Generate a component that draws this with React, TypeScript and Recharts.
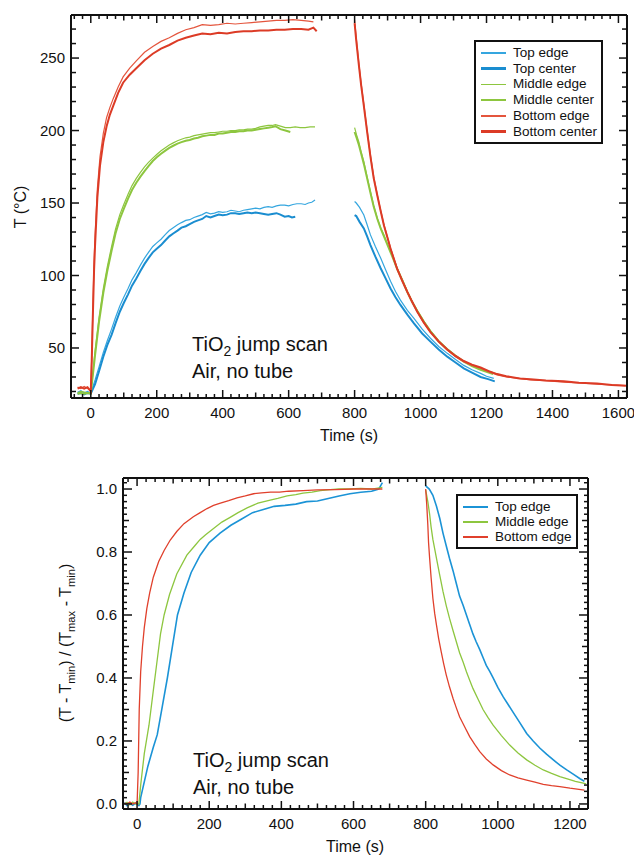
import { LineChart, Line, XAxis, YAxis } from "recharts";

type Pt = [number, number | null];

// ---- top panel: temperature (°C) vs time (s) ----
const topEdgeHeat: Pt[] = [
  [-40, 19.5], [-30, 20.5], [-20, 19], [-10, 20], [0, 19], [13, 28], [25, 37], [38, 47], [50, 55], [63, 63],
  [75, 71], [88, 79], [100, 85], [113, 91], [125, 97], [138, 102], [150, 107], [163, 112], [175, 116], [188, 120],
  [200, 122.5], [213, 125], [225, 128], [238, 131], [250, 133], [263, 135], [275, 136.5], [288, 138], [300, 138.5],
  [313, 140], [325, 141], [338, 142], [350, 143.5], [363, 142.5], [375, 143], [388, 144], [400, 143.5], [413, 144],
  [425, 145], [438, 144.5], [450, 144], [463, 145], [475, 145.5], [488, 146], [500, 146.5], [513, 146], [525, 147],
  [538, 147.5], [550, 147], [563, 148], [575, 148.5], [588, 148.6], [600, 148], [613, 149], [625, 149.5],
  [638, 149.5], [650, 149], [660, 150], [670, 150.5], [680, 152],
];
const topEdgeCool: Pt[] = [
  [800, 151], [805, 150], [815, 147], [828, 141.7], [838, 135], [848, 128], [863, 120], [879, 112], [894, 104],
  [909, 96], [924, 89], [939, 83], [960, 76], [980, 70.5], [1005, 63], [1030, 56.7], [1055, 51], [1081, 46.3],
  [1106, 42], [1131, 38], [1156, 35], [1182, 32.5], [1200, 30.5], [1222, 29],
];
const topCenterHeat: Pt[] = [
  [-40, 18.5], [-30, 19], [-20, 18], [-10, 19], [0, 18.5], [13, 25], [25, 34], [38, 44], [50, 52], [63, 59],
  [75, 67], [88, 75], [100, 81], [113, 87], [125, 93], [138, 98], [150, 103], [163, 108], [175, 112], [188, 116],
  [200, 118.5], [213, 121], [225, 124], [238, 127], [250, 129], [263, 131], [275, 133], [288, 134], [300, 135.5],
  [313, 137], [325, 138], [338, 139], [350, 141], [363, 140], [375, 141], [388, 142], [400, 141.5], [413, 142],
  [425, 143], [438, 143], [450, 142.5], [463, 143], [475, 143.5], [488, 143], [500, 143.5], [513, 143],
  [525, 142.5], [538, 142], [550, 142.5], [563, 143], [575, 142], [588, 140.6], [600, 141], [610, 140], [620, 140.5],
];
const topCenterCool: Pt[] = [
  [800, 141.7], [805, 141], [815, 137], [828, 132.5], [838, 127], [848, 121], [863, 113], [879, 105], [894, 98],
  [909, 91], [924, 85], [939, 79.7], [960, 73], [980, 67], [1005, 60], [1030, 54.4], [1055, 49], [1081, 44],
  [1106, 40], [1131, 36], [1156, 33], [1182, 30], [1205, 28.5], [1225, 27],
];
const midEdgeHeat: Pt[] = [
  [-40, 19], [-30, 20], [-20, 19.5], [-10, 19], [0, 19], [13, 48], [25, 71], [38, 91], [50, 106], [63, 120],
  [75, 132], [88, 142], [100, 149], [113, 156], [125, 162], [138, 167], [150, 171], [163, 175], [175, 178],
  [188, 181], [200, 183.5], [213, 186], [225, 188], [238, 190], [250, 191.5], [263, 193], [275, 194], [288, 195],
  [300, 195.5], [313, 196.5], [325, 197], [338, 197.5], [350, 198], [363, 198.5], [375, 198.5], [388, 199],
  [400, 199.5], [413, 199.5], [425, 200], [438, 200], [450, 200.5], [463, 200.5], [475, 201], [488, 201],
  [500, 201.5], [513, 202.5], [525, 203], [538, 203.5], [550, 203.5], [560, 204], [575, 203], [590, 202],
  [605, 202], [620, 202.5], [635, 202], [650, 202], [665, 202.5], [680, 202.5],
];
const midEdgeCool: Pt[] = [
  [800, 202], [806, 197], [813, 192], [820, 185], [828, 178.5], [838, 168], [848, 158], [858, 148], [869, 139.4],
  [879, 133], [889, 128], [899, 122], [909, 116.6], [919, 111], [929, 105], [945, 97], [960, 89], [975, 82],
  [990, 76], [1010, 68.5], [1030, 62], [1055, 55], [1081, 49.5], [1106, 45], [1131, 41], [1156, 38], [1182, 36],
  [1207, 34], [1232, 32], [1245, 31],
];
const midCenterHeat: Pt[] = [
  [-40, 18.5], [-30, 19], [-20, 18.5], [-10, 19], [0, 18.5], [13, 45], [25, 68], [38, 88], [50, 103], [63, 117],
  [75, 129], [88, 139], [100, 146], [113, 153], [125, 159], [138, 164], [150, 168], [163, 172], [175, 175.5],
  [188, 179], [200, 181.5], [213, 184], [225, 186], [238, 188], [250, 189.5], [263, 191], [275, 192], [288, 193],
  [300, 193.5], [313, 194.5], [325, 195], [338, 196], [350, 196.5], [363, 197], [375, 197], [388, 198], [400, 198],
  [413, 198.5], [425, 199], [438, 199], [450, 199.5], [463, 199.5], [475, 200], [488, 200], [500, 200.5],
  [513, 201], [525, 201.5], [538, 202], [550, 202.5], [560, 203], [575, 201], [590, 200], [605, 199],
];
const midCenterCool: Pt[] = [
  [800, 199], [806, 195], [813, 190], [820, 184], [828, 177], [838, 167], [848, 157], [858, 147.5], [869, 139],
  [879, 132.5], [889, 127], [899, 121.5], [909, 116], [919, 110.5], [929, 104.5], [945, 96.5], [960, 88.5],
  [975, 81.5], [990, 75.5], [1010, 68], [1030, 61.5], [1055, 54.5], [1081, 49], [1106, 44.5], [1131, 40.5],
  [1156, 37.5], [1182, 35], [1200, 33.5], [1220, 32],
];
const botEdgeHeat: Pt[] = [
  [-40, 23], [-30, 22], [-20, 23.5], [-10, 22], [0, 21], [3, 45], [6, 75], [10, 110], [13, 128], [20, 160],
  [28, 182], [38, 198], [48, 209], [58, 216], [68, 222], [83, 230], [98, 237], [118, 243], [138, 248], [163, 254],
  [188, 258], [213, 261.5], [238, 264], [263, 267], [288, 269.5], [313, 271], [338, 273], [363, 272.5], [388, 273],
  [413, 274], [438, 273.5], [463, 274], [488, 274.5], [513, 275], [538, 275.5], [563, 276], [588, 276],
  [613, 276.5], [638, 276], [660, 275.5], [675, 275],
];
const botEdgeCool: Pt[] = [
  [800, 276], [805, 264], [813, 246], [820, 232], [828, 218], [838, 200], [848, 183], [858, 168], [869, 155.5],
  [879, 145], [889, 135], [899, 127], [909, 119], [919, 112], [929, 105], [945, 96.5], [960, 89], [975, 82],
  [990, 75], [1010, 67.5], [1030, 61], [1055, 54.5], [1081, 48.6], [1106, 44], [1131, 40.6], [1156, 38],
  [1182, 36], [1207, 33.5], [1232, 31.4], [1260, 30], [1300, 29], [1333, 28], [1380, 27.5], [1434, 26.5],
  [1480, 26], [1535, 25], [1580, 24.5], [1620, 24],
];
const botCenterHeat: Pt[] = [
  [-40, 22], [-30, 23], [-20, 22], [-10, 23], [0, 20], [3, 42], [6, 70], [10, 104], [13, 121], [20, 154],
  [28, 176], [38, 192], [48, 203], [58, 211], [68, 217], [83, 226], [98, 233], [118, 238.5], [138, 243],
  [163, 248.5], [188, 253], [213, 256.5], [238, 259], [263, 262], [288, 264], [313, 265.5], [338, 267],
  [363, 266.5], [388, 267.5], [413, 267], [438, 268], [463, 268.5], [488, 268.5], [513, 269], [538, 269],
  [563, 269.5], [588, 269.5], [613, 270], [638, 270], [660, 269.5], [675, 271], [685, 268.5],
];
const botCenterCool: Pt[] = [
  [800, 274], [805, 262], [813, 245], [820, 231], [828, 217], [838, 199], [848, 182], [858, 167], [869, 155],
  [879, 144.5], [889, 134.5], [899, 126.5], [909, 118.5], [919, 111.5], [929, 104.5], [945, 96], [960, 88.5],
  [975, 81.5], [990, 75], [1010, 67.5], [1030, 61], [1055, 54.5], [1081, 49], [1106, 44.5], [1131, 41],
  [1156, 38.5], [1182, 36.5], [1207, 34], [1232, 32], [1260, 30.5], [1300, 29], [1333, 28.5], [1380, 27.5],
  [1434, 27], [1480, 26], [1535, 25.5], [1580, 24.5], [1625, 24],
];

// ---- bottom panel: normalised temperature vs time (s) ----
const normTopHeat: Pt[] = [
  [-35, 0.005], [-28, -0.005], [-20, 0.003], [-12, -0.004], [-5, 0.002], [0, 0], [5, -0.005], [8, 0], [10, 0.02],
  [20, 0.07], [30, 0.12], [45, 0.18], [56, 0.22], [70, 0.31], [84, 0.4], [98, 0.5], [112, 0.6], [130, 0.67],
  [150, 0.735], [175, 0.79], [200, 0.83], [230, 0.86], [260, 0.885], [290, 0.905], [320, 0.925], [350, 0.935],
  [380, 0.945], [410, 0.948], [440, 0.952], [470, 0.96], [500, 0.962], [530, 0.97], [560, 0.978], [590, 0.985],
  [620, 0.99], [650, 0.993], [670, 1.0], [680, 1.02],
];
const normTopCool: Pt[] = [
  [800, 1.01], [810, 1.0], [820, 0.98], [830, 0.945], [839, 0.907], [848, 0.86], [857, 0.82], [866, 0.78],
  [876, 0.74], [885, 0.7], [894, 0.66], [904, 0.63], [913, 0.6], [922, 0.57], [931, 0.54], [940, 0.515],
  [950, 0.49], [959, 0.465], [968, 0.44], [978, 0.42], [987, 0.4], [1000, 0.37], [1015, 0.34], [1029, 0.315],
  [1043, 0.29], [1060, 0.26], [1080, 0.224], [1098, 0.2], [1117, 0.177], [1135, 0.158], [1154, 0.14],
  [1172, 0.123], [1191, 0.108], [1210, 0.094], [1228, 0.08], [1240, 0.072],
];
const normMidHeat: Pt[] = [
  [-35, 0], [-28, 0.005], [-20, -0.003], [-12, 0.006], [-5, 0], [0, 0.003], [5, 0], [10, 0.06], [20, 0.16],
  [33, 0.25], [45, 0.36], [55, 0.45], [65, 0.54], [75, 0.6], [90, 0.665], [110, 0.73], [138, 0.79], [160, 0.82],
  [175, 0.84], [190, 0.855], [212, 0.875], [235, 0.895], [258, 0.91], [280, 0.925], [305, 0.94], [335, 0.955],
  [369, 0.965], [390, 0.97], [416, 0.978], [440, 0.982], [460, 0.987], [485, 0.99], [508, 0.995], [535, 0.998],
  [560, 1.0], [590, 1.0], [620, 1.002], [650, 1.0], [680, 1.005],
];
const normMidCool: Pt[] = [
  [800, 0.997], [806, 0.96], [811, 0.92], [815, 0.88], [820, 0.84], [830, 0.78], [839, 0.727], [848, 0.675],
  [857, 0.63], [866, 0.59], [876, 0.55], [885, 0.515], [894, 0.48], [904, 0.45], [913, 0.42], [922, 0.393],
  [931, 0.367], [945, 0.333], [959, 0.3], [973, 0.274], [987, 0.25], [1010, 0.217], [1033, 0.187], [1056, 0.162],
  [1080, 0.14], [1103, 0.123], [1126, 0.108], [1149, 0.097], [1172, 0.087], [1195, 0.079], [1215, 0.072],
  [1237, 0.066], [1245, 0.064],
];
const normBotHeat: Pt[] = [
  [-35, 0.003], [-28, 0], [-20, 0.006], [-12, 0], [-5, 0.004], [0, 0], [3, 0.1], [6, 0.3], [10, 0.42], [15, 0.5],
  [20, 0.56], [27, 0.62], [35, 0.67], [45, 0.72], [60, 0.77], [75, 0.805], [92, 0.838], [110, 0.865], [130, 0.89],
  [156, 0.912], [175, 0.925], [194, 0.938], [212, 0.948], [231, 0.955], [254, 0.963], [277, 0.972], [300, 0.978],
  [323, 0.985], [345, 0.988], [370, 0.99], [395, 0.99], [420, 0.993], [460, 0.995], [500, 0.997], [550, 0.998],
  [600, 1.0], [640, 1.0], [680, 1.0],
];
const normBotCool: Pt[] = [
  [800, 1.0], [803, 0.95], [806, 0.886], [808, 0.83], [811, 0.78], [815, 0.72], [820, 0.653], [825, 0.605],
  [830, 0.568], [836, 0.525], [843, 0.484], [850, 0.445], [857, 0.41], [866, 0.372], [876, 0.335], [885, 0.305],
  [894, 0.277], [908, 0.245], [922, 0.214], [936, 0.189], [950, 0.166], [968, 0.143], [987, 0.124],
  [1010, 0.106], [1033, 0.092], [1056, 0.083], [1080, 0.076], [1103, 0.069], [1126, 0.062], [1149, 0.058],
  [1172, 0.055], [1200, 0.05], [1220, 0.047], [1240, 0.044],
];

// tick labels
const tempTicks = [50, 100, 150, 200, 250];
const timeTicksTop = [0, 200, 400, 600, 800, 1000, 1200, 1400, 1600];
const normTicks = [0, 0.2, 0.4, 0.6, 0.8, 1.0];
const timeTicksBottom = [0, 200, 400, 600, 800, 1000, 1200];

const FONT = "'Liberation Sans', Arial, Helvetica, sans-serif";
const BLUE_E = "#35a6df";
const BLUE_C = "#1a8dd0";
const GREEN = "#8dc63f";
const RED_E = "#e4553d";
const RED_C = "#dc3b26";

const rows = (heat: Pt[], cool: Pt[]) =>
  [...heat, [740, null] as Pt, ...cool].map(([t, v]) => ({ t, v }));

const steps = (from: number, to: number, step: number) => {
  const out: number[] = [];
  for (let i = 0; from + i * step <= to + 1e-9; i++) out.push(Math.round((from + i * step) * 1000) / 1000);
  return out;
};

const near = (a: number, b: number) => Math.abs(a - b) < 1e-6;

type Side = "left" | "right" | "top" | "bottom";

// inward ticks on all four sides, labels only on left / bottom
function makeTick(side: Side, labels: number[], med: number, lens: number[], fmt: (v: number) => string) {
  return (props: any) => {
    const { x, y, payload } = props;
    const v = payload.value as number;
    const major = labels.some((l) => near(l, v));
    const medium = near(v / med, Math.round(v / med));
    const L = major ? lens[0] : medium ? lens[1] : lens[2];
    let x2 = x;
    let y2 = y;
    if (side === "left") x2 = x + L;
    if (side === "right") x2 = x - L;
    if (side === "top") y2 = y + L;
    if (side === "bottom") y2 = y - L;
    return (
      <g>
        <line x1={x} y1={y} x2={x2} y2={y2} stroke="#111" strokeWidth={1.5} />
        {major && side === "left" && (
          <text x={x - 6} y={y + 5.3} textAnchor="end" fontSize={15} fontFamily={FONT} fill="#111">
            {fmt(v)}
          </text>
        )}
        {major && side === "bottom" && (
          <text x={x} y={y + 20} textAnchor="middle" fontSize={15} fontFamily={FONT} fill="#111">
            {fmt(v)}
          </text>
        )}
      </g>
    );
  };
}

const abs = (left: number, top: number, extra: object = {}) => ({
  position: "absolute" as const,
  left,
  top,
  fontFamily: FONT,
  color: "#111",
  whiteSpace: "nowrap" as const,
  ...extra,
});

function LegendBox({ left, top, items, gap, firstRow }: any) {
  return (
    <div style={abs(left, top, { border: "2px solid #111", background: "#fff", boxSizing: "border-box", ...firstRow.box })}>
      {items.map((it: any, i: number) => (
        <div key={i} style={{ position: "absolute", left: 5, top: firstRow.y + i * gap - 8, height: 16, display: "flex", alignItems: "center" }}>
          <div style={{ width: 25, height: it.w, background: it.color }} />
          <span style={{ marginLeft: 7, fontSize: 13.5, lineHeight: "16px" }}>{it.name}</span>
        </div>
      ))}
    </div>
  );
}

const axisLine = { stroke: "#111", strokeWidth: 2 };

export default function App() {
  const frameTempY = steps(20, 270, 10);
  const frameTopX = steps(-50, 1625, 25);
  const frameNormY = steps(0, 1.02, 0.02);
  const frameBotX = steps(-25, 1225, 25);

  const topSeries = [
    { heat: topEdgeHeat, cool: topEdgeCool, color: BLUE_E, w: 1.2 },
    { heat: topCenterHeat, cool: topCenterCool, color: BLUE_C, w: 2 },
    { heat: midEdgeHeat, cool: midEdgeCool, color: GREEN, w: 1.2 },
    { heat: midCenterHeat, cool: midCenterCool, color: GREEN, w: 2 },
    { heat: botEdgeHeat, cool: botEdgeCool, color: RED_E, w: 1.2 },
    { heat: botCenterHeat, cool: botCenterCool, color: RED_C, w: 2 },
  ];
  const normSeries = [
    { heat: normTopHeat, cool: normTopCool, color: "#1b93d6", w: 1.6 },
    { heat: normMidHeat, cool: normMidCool, color: GREEN, w: 1.3 },
    { heat: normBotHeat, cool: normBotCool, color: "#e0402c", w: 1.3 },
  ];

  return (
    <div style={{ position: "absolute", left: 0, top: 0, width: 634, height: 856, background: "#fff" }}>
      <div style={{ position: "absolute", left: 0, top: 0 }}>
        <LineChart width={634} height={460} margin={{ top: 14, right: 6, bottom: 61, left: 70 }}>
          <XAxis dataKey="t" type="number" domain={[-60, 1626]} allowDataOverflow ticks={frameTopX} interval={0}
            height={1} tickSize={0} tickMargin={0} axisLine={axisLine}
            tick={makeTick("bottom", timeTicksTop, 100, [8, 5.5, 4], (v) => String(v))} />
          <XAxis xAxisId="top" orientation="top" dataKey="t" type="number" domain={[-60, 1626]} allowDataOverflow
            ticks={frameTopX} interval={0} height={1} tickSize={0} tickMargin={0} axisLine={axisLine}
            tick={makeTick("top", timeTicksTop, 100, [8, 5.5, 4], (v) => String(v))} />
          <YAxis type="number" domain={[15.5, 279.7]} allowDataOverflow ticks={frameTempY} interval={0}
            width={1} tickSize={0} tickMargin={0} axisLine={axisLine}
            tick={makeTick("left", tempTicks, 50, [8, 8, 5], (v) => String(v))} />
          <YAxis yAxisId="right" orientation="right" type="number" domain={[15.5, 279.7]} allowDataOverflow
            ticks={frameTempY} interval={0} width={1} tickSize={0} tickMargin={0} axisLine={axisLine}
            tick={makeTick("right", tempTicks, 50, [8, 8, 5], (v) => String(v))} />
          {topSeries.map((s, i) => (
            <Line key={i} data={rows(s.heat, s.cool)} dataKey="v" stroke={s.color} strokeWidth={s.w}
              dot={false} activeDot={false} isAnimationActive={false} connectNulls={false} />
          ))}
        </LineChart>
      </div>

      <div style={{ position: "absolute", left: 0, top: 460 }}>
        <LineChart width={634} height={396} margin={{ top: 17, right: 45, bottom: 46, left: 122 }}>
          <XAxis dataKey="t" type="number" domain={[-39, 1250]} allowDataOverflow ticks={frameBotX} interval={0}
            height={1} tickSize={0} tickMargin={0} axisLine={axisLine}
            tick={makeTick("bottom", timeTicksBottom, 100, [8, 5.5, 4], (v) => String(v))} />
          <XAxis xAxisId="top" orientation="top" dataKey="t" type="number" domain={[-39, 1250]} allowDataOverflow
            ticks={frameBotX} interval={0} height={1} tickSize={0} tickMargin={0} axisLine={axisLine}
            tick={makeTick("top", timeTicksBottom, 100, [8, 5.5, 4], (v) => String(v))} />
          <YAxis type="number" domain={[-0.016, 1.035]} allowDataOverflow ticks={frameNormY} interval={0}
            width={1} tickSize={0} tickMargin={0} axisLine={axisLine}
            tick={makeTick("left", normTicks, 0.1, [9, 6, 4], (v) => v.toFixed(1))} />
          <YAxis yAxisId="right" orientation="right" type="number" domain={[-0.016, 1.035]} allowDataOverflow
            ticks={frameNormY} interval={0} width={1} tickSize={0} tickMargin={0} axisLine={axisLine}
            tick={makeTick("right", normTicks, 0.1, [9, 6, 4], (v) => v.toFixed(1))} />
          {normSeries.map((s, i) => (
            <Line key={i} data={rows(s.heat, s.cool)} dataKey="v" stroke={s.color} strokeWidth={s.w}
              dot={false} activeDot={false} isAnimationActive={false} connectNulls={false} />
          ))}
        </LineChart>
      </div>

      {/* axis titles */}
      <div style={abs(21, 207, { fontSize: 16, transform: "translate(-50%, -50%) rotate(-90deg)" })}>T (°C)</div>
      <div style={abs(349, 428, { fontSize: 16, lineHeight: "16px", transform: "translateX(-50%)" })}>Time (s)</div>
      <div style={abs(66, 643, { fontSize: 16, transform: "translate(-50%, -50%) rotate(-90deg)" })}>
        (T - T<sub style={{ fontSize: "0.7em", lineHeight: 0 }}>min</sub>) / (T<sub style={{ fontSize: "0.7em", lineHeight: 0 }}>max</sub> - T<sub style={{ fontSize: "0.7em", lineHeight: 0 }}>min</sub>)
      </div>
      <div style={abs(355, 839, { fontSize: 16, lineHeight: "16px", transform: "translateX(-50%)" })}>Time (s)</div>

      {/* annotations */}
      <div style={abs(192, 331, { fontSize: 20, lineHeight: "27px" })}>
        TiO<sub style={{ fontSize: "0.7em", lineHeight: 0 }}>2</sub> jump scan<br />Air, no tube
      </div>
      <div style={abs(193, 747, { fontSize: 20, lineHeight: "27px" })}>
        TiO<sub style={{ fontSize: "0.7em", lineHeight: 0 }}>2</sub> jump scan<br />Air, no tube
      </div>

      <LegendBox left={474} top={40} gap={15.7}
        firstRow={{ y: 11, box: { width: 129, height: 104 } }}
        items={[
          { name: "Top edge", color: BLUE_E, w: 1.5 },
          { name: "Top center", color: BLUE_C, w: 2.5 },
          { name: "Middle edge", color: GREEN, w: 1.5 },
          { name: "Middle center", color: GREEN, w: 2.5 },
          { name: "Bottom edge", color: RED_E, w: 1.5 },
          { name: "Bottom center", color: RED_C, w: 2.5 },
        ]} />
      <LegendBox left={456} top={494} gap={15}
        firstRow={{ y: 11, box: { width: 122, height: 55 } }}
        items={[
          { name: "Top edge", color: "#1b93d6", w: 2 },
          { name: "Middle edge", color: GREEN, w: 1.5 },
          { name: "Bottom edge", color: "#e0402c", w: 1.5 },
        ]} />
    </div>
  );
}
